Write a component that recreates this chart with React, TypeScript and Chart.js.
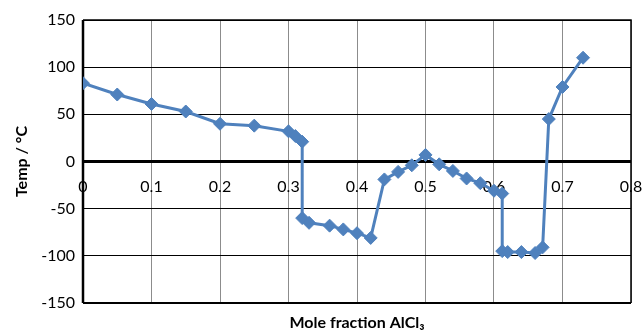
import React, { useEffect, useRef } from "react";
import { Chart, registerables } from "chart.js";

Chart.register(...registerables);

// Data
const moleFraction = [
  0, 0.05, 0.1, 0.15, 0.2, 0.25, 0.3, 0.31, 0.32, 0.32, 0.33, 0.36, 0.38, 0.4, 0.42,
  0.44, 0.46, 0.48, 0.5, 0.52, 0.54, 0.56, 0.58, 0.6, 0.612, 0.612, 0.62, 0.64, 0.66,
  0.671, 0.68, 0.7, 0.73,
];
const tempC = [
  83, 71, 61, 53, 40, 38, 32, 27, 21, -60, -65, -68, -72, -76, -81,
  -19, -11, -4, 7, -3, -10, -18, -23, -31, -34, -95, -96, -96, -97,
  -91, 45, 79, 110,
];
const xTickValues = [0, 0.1, 0.2, 0.3, 0.4, 0.5, 0.6, 0.7, 0.8];
const xTickLabels = ["0", "0.1", "0.2", "0.3", "0.4", "0.5", "0.6", "0.7", "0.8"];
const yTickValues = [-150, -100, -50, 0, 50, 100, 150];
const xTitle = "Mole fraction AlCl\u2083";
const yTitle = "Temp / \u00b0C";

const FONT = "Lato, 'Liberation Sans', sans-serif";
const LINE_BLUE = "#4F81BD";

export default function App() {
  const ref = useRef<HTMLCanvasElement>(null);

  useEffect(() => {
    document.body.style.margin = "0";
    const canvas = ref.current;
    if (!canvas) return;

    const borderPlugin = {
      id: "plotBorder",
      beforeDatasetsDraw(chart: any) {
        const { ctx, chartArea } = chart;
        const { left, right, top, bottom } = chartArea;
        ctx.save();
        ctx.strokeStyle = "#000";
        ctx.lineWidth = 1.5;
        ctx.beginPath();
        ctx.moveTo(left, top);
        ctx.lineTo(right, top);
        ctx.lineTo(right, bottom);
        ctx.stroke();
        ctx.lineWidth = 2;
        ctx.beginPath();
        ctx.moveTo(left, bottom);
        ctx.lineTo(right, bottom);
        ctx.stroke();
        ctx.lineWidth = 2.5;
        ctx.beginPath();
        ctx.moveTo(left, top);
        ctx.lineTo(left, bottom);
        ctx.stroke();
        ctx.restore();
      },
    };

    const points = moleFraction.map((x, i) => ({ x, y: tempC[i] }));

    const chart = new Chart(canvas, {
      type: "line",
      data: {
        datasets: [
          {
            data: points,
            borderColor: LINE_BLUE,
            backgroundColor: LINE_BLUE,
            borderWidth: 3,
            pointStyle: "rectRot",
            pointRadius: 6.5,
            pointBorderWidth: 1,
            pointBackgroundColor: LINE_BLUE,
            pointBorderColor: LINE_BLUE,
            tension: 0,
            xAxisID: "x",
            yAxisID: "y",
          },
        ],
      },
      options: {
        animation: false,
        responsive: false,
        devicePixelRatio: 1,
        layout: { padding: { top: 20, right: 12, left: 0, bottom: 0 } },
        plugins: { legend: { display: false }, tooltip: { enabled: false } },
        scales: {
          x: {
            type: "linear",
            position: "bottom",
            min: 0,
            max: 0.8,
            afterBuildTicks: (s: any) => {
              s.ticks = xTickValues.map((v) => ({ value: v }));
            },
            ticks: { display: false },
            grid: { color: "#8c8c8c", lineWidth: 1, drawTicks: false },
            border: { display: false },
            title: {
              display: true,
              text: xTitle,
              color: "#000",
              font: { family: FONT, size: 16, weight: "bold" },
              padding: { top: 8, bottom: -2 },
            },
            afterFit: (s: any) => {
              s.height = 27;
              s.paddingLeft = 0;
              s.paddingRight = 0;
            },
          },
          xLabels: {
            type: "linear",
            position: { y: 0 },
            min: 0,
            max: 0.8,
            afterBuildTicks: (s: any) => {
              s.ticks = xTickValues.map((v) => ({ value: v }));
            },
            ticks: {
              color: "#000",
              padding: 16,
              maxRotation: 0,
              font: { family: FONT, size: 16 },
              callback: (_v: any, i: number) => xTickLabels[i],
            },
            grid: { display: false, drawTicks: false },
            border: { display: false },
            afterFit: (s: any) => {
              s.paddingLeft = 0;
              s.paddingRight = 0;
            },
          },
          y: {
            type: "linear",
            position: "left",
            min: -150,
            max: 150,
            afterBuildTicks: (s: any) => {
              s.ticks = yTickValues.map((v) => ({ value: v }));
            },
            ticks: {
              color: "#000",
              padding: 8,
              font: { family: FONT, size: 16 },
            },
            grid: {
              color: "#000",
              lineWidth: (c: any) => (c.tick && c.tick.value === 0 ? 3 : 1),
              drawTicks: false,
            },
            border: { display: false },
            title: {
              display: true,
              text: yTitle,
              color: "#000",
              font: { family: FONT, size: 16, weight: "bold" },
              padding: { top: 12, bottom: 0 },
            },
            afterFit: (s: any) => {
              s.width = 83;
            },
          },
        },
      },
      plugins: [borderPlugin],
    } as any);

    return () => chart.destroy();
  }, []);

  return (
    <div style={{ position: "absolute", left: 0, top: 0, width: 643, height: 330 }}>
      <canvas ref={ref} width={643} height={330} />
    </div>
  );
}
